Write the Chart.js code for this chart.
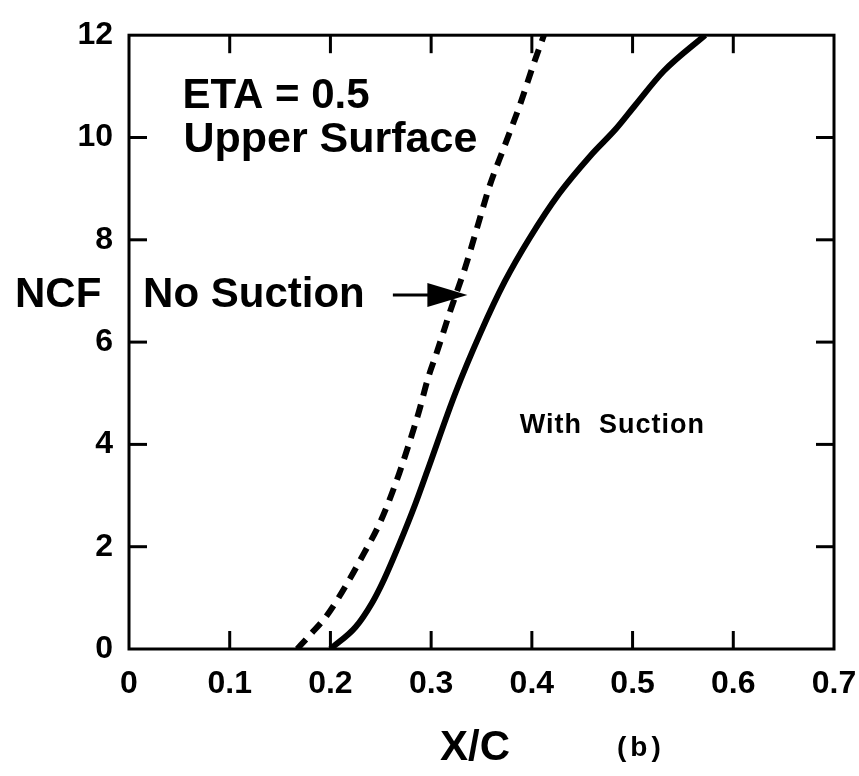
<!DOCTYPE html>
<html><head><meta charset="utf-8">
<script src="https://cdn.jsdelivr.net/npm/chart.js@4/dist/chart.umd.min.js"></script>
<style>html,body{margin:0;padding:0;background:#fff;}#wrap{width:859px;height:776px;}</style>
</head><body><div id="wrap"><canvas id="c" width="859" height="776"></canvas></div>
<script>
// ---- data ----
const xTickLabels = ['0','0.1','0.2','0.3','0.4','0.5','0.6','0.7'];
const yTickLabels = ['0','2','4','6','8','10','12'];

const noSuctionX = [0.167, 0.179, 0.197, 0.218, 0.233, 0.249, 0.265, 0.277, 0.288, 0.297, 0.306, 0.319, 0.334, 0.346, 0.358, 0.373, 0.388, 0.402, 0.412];
const noSuctionY = [0.0,   0.26,  0.67,  1.33,  1.86,  2.46,  3.25,  3.95,  4.65,  5.30,  5.82,  6.61,  7.47,  8.26,  9.05,  9.84,  10.63, 11.45, 12.0];

const withSuctionX = [0.200, 0.225, 0.241, 0.253, 0.269, 0.284, 0.296, 0.324, 0.349, 0.373, 0.398, 0.427, 0.458, 0.484, 0.503, 0.531, 0.572];
const withSuctionY = [0.0,   0.43,  0.89,  1.35,  2.08,  2.82,  3.47,  5.00,  6.18,  7.18,  8.04,  8.90,  9.64,  10.18, 10.64, 11.30, 12.0];

// annotation texts placed in data units
const plotNotes = [
  {text: 'ETA = 0.5',     x: 0.053, y: 10.57, size: 42, spacing: 0},
  {text: 'Upper Surface', x: 0.054, y: 9.71,  size: 43, spacing: 0},
  {text: 'No Suction',    x: 0.014, y: 6.68,  size: 42, spacing: 0},
  {text: 'With  Suction', x: 0.388, y: 4.22,  size: 27, spacing: 1}
];
const arrowNote = {fromX: 0.262, toX: 0.336, y: 6.92};
const yTitle = 'NCF';
const xTitle = 'X/C';
const panelTag = '(b)';

const FONT = "'Liberation Sans', Arial, Helvetica, sans-serif";

const decor = {
  id: 'decor',
  afterDraw(chart) {
    const {ctx, chartArea: a, scales: {x, y}} = chart;
    ctx.save();
    ctx.strokeStyle = '#000';
    ctx.fillStyle = '#000';
    ctx.lineWidth = 3;
    ctx.lineCap = 'butt';
    ctx.strokeRect(a.left, a.top, a.right - a.left, a.bottom - a.top);
    const L = 18;
    const seg = (x1, y1, x2, y2) => { ctx.beginPath(); ctx.moveTo(x1, y1); ctx.lineTo(x2, y2); ctx.stroke(); };
    x.ticks.forEach(t => {
      if (t.value <= x.min + 1e-9 || t.value >= x.max - 1e-9) return;
      const px = x.getPixelForValue(t.value);
      seg(px, a.bottom, px, a.bottom - L);
      seg(px, a.top, px, a.top + L);
    });
    y.ticks.forEach(t => {
      if (t.value <= y.min + 1e-9 || t.value >= y.max - 1e-9) return;
      const py = y.getPixelForValue(t.value);
      seg(a.left, py, a.left + L, py);
      seg(a.right, py, a.right - L, py);
    });
    // notes
    ctx.textBaseline = 'alphabetic';
    ctx.textAlign = 'left';
    plotNotes.forEach(n => {
      ctx.font = `bold ${n.size}px ${FONT}`;
      ctx.letterSpacing = n.spacing + 'px';
      ctx.fillText(n.text, x.getPixelForValue(n.x), y.getPixelForValue(n.y));
    });
    ctx.letterSpacing = '0px';
    // arrow
    const ax1 = x.getPixelForValue(arrowNote.fromX);
    const ax2 = x.getPixelForValue(arrowNote.toX);
    const ay = y.getPixelForValue(arrowNote.y);
    ctx.lineWidth = 3;
    seg(ax1, ay, ax2 - 30, ay);
    ctx.beginPath();
    ctx.moveTo(ax2, ay);
    ctx.lineTo(ax2 - 40, ay - 12);
    ctx.lineTo(ax2 - 40, ay + 12);
    ctx.closePath();
    ctx.fill();
    // axis titles
    ctx.font = `bold 42px ${FONT}`;
    ctx.fillText(yTitle, 15, y.getPixelForValue(6.68));
    ctx.fillText(xTitle, 440, 760);
    ctx.font = `bold 28px ${FONT}`;
    ctx.letterSpacing = '4px';
    ctx.fillText(panelTag, 617, 756);
    ctx.restore();
  }
};

const toPts = (xs, ys) => xs.map((v, i) => ({x: v, y: ys[i]}));

new Chart(document.getElementById('c'), {
  type: 'scatter',
  data: {
    datasets: [
      {
        label: 'No Suction',
        data: toPts(noSuctionX, noSuctionY),
        showLine: true,
        borderColor: '#000',
        borderWidth: 6,
        borderDash: [13, 9],
        pointRadius: 0,
        cubicInterpolationMode: 'monotone',
        fill: false
      },
      {
        label: 'With Suction',
        data: toPts(withSuctionX, withSuctionY),
        showLine: true,
        borderColor: '#000',
        borderWidth: 6,
        pointRadius: 0,
        cubicInterpolationMode: 'monotone',
        fill: false
      }
    ]
  },
  options: {
    responsive: false,
    devicePixelRatio: 1,
    animation: false,
    layout: {padding: {left: 0, top: 35, right: 0, bottom: 0}},
    plugins: {legend: {display: false}, tooltip: {enabled: false}},
    scales: {
      x: {
        type: 'linear', min: 0, max: 0.7,
        afterFit: s => { s.height = 127; s.paddingRight = 25; s.paddingLeft = 0; },
        grid: {display: false, drawTicks: false},
        border: {display: false},
        ticks: {
          stepSize: 0.1, padding: 16, color: '#000',
          font: {family: FONT, size: 32, weight: 'bold'},
          callback: (v, i) => xTickLabels[i]
        }
      },
      y: {
        type: 'linear', min: 0, max: 12,
        afterFit: s => { s.width = 129; },
        grid: {display: false, drawTicks: false},
        border: {display: false},
        ticks: {
          stepSize: 2, padding: 16, color: '#000',
          font: {family: FONT, size: 32, weight: 'bold'},
          callback: (v, i) => yTickLabels[i]
        }
      }
    }
  },
  plugins: [decor]
});
</script>
</body></html>
